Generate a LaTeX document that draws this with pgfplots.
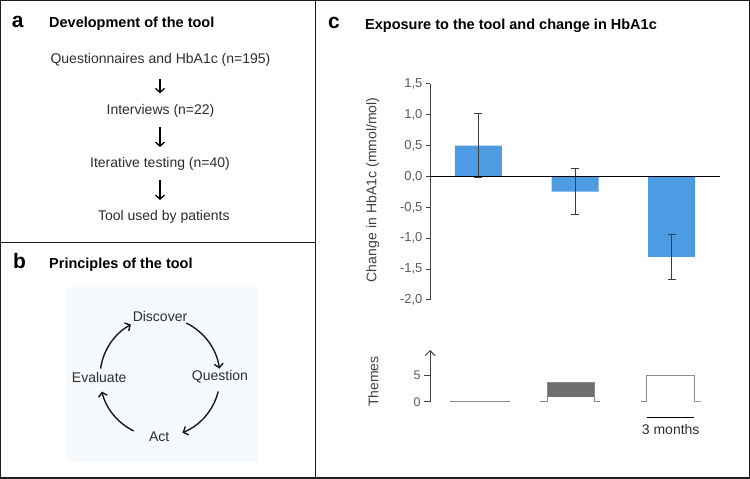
\documentclass[border=0pt]{standalone}
\usepackage{pgfplots}
\pgfplotsset{compat=1.18}
\usepackage{fontspec}
\setmainfont{Liberation Sans}
\usetikzlibrary{arrows.meta}
\definecolor{barblue}{RGB}{77,155,226}
\definecolor{txt}{RGB}{45,45,45}
\definecolor{tickc}{RGB}{89,89,89}
\definecolor{axgray}{RGB}{64,64,64}
\definecolor{framec}{RGB}{30,30,30}
\definecolor{bgb}{RGB}{247,250,253}
\definecolor{themefill}{RGB}{110,110,110}
\definecolor{themeline}{RGB}{140,140,140}
\definecolor{errc}{RGB}{60,60,60}
\newcommand{\bodyf}{\fontsize{14}{16}\selectfont}
\newcommand{\titlef}{\fontsize{14.5}{17}\selectfont\bfseries}
\newcommand{\letterf}{\fontsize{21}{24}\selectfont\bfseries}
\begin{document}
\begin{tikzpicture}
\useasboundingbox (0,0) rectangle (750pt,479pt);
\begin{scope}[x=1pt,y=1pt]
% frame
\draw[framec, line width=1.4pt] (0.7,0.9) rectangle (749.2,478.3);
\draw[framec, line width=1.4pt] (315.3,0) -- (315.3,479);
\draw[framec, line width=1.4pt] (0,236.7) -- (315.3,236.7);
% panel a
\node[anchor=base west, inner sep=0, font=\letterf] at (11.7,451) {a};
\node[anchor=base west, inner sep=0, font=\titlef] at (49,451) {Development of the tool};
\node[anchor=base, inner sep=0, font=\bodyf, text=txt] at (160.5,415.7) {Questionnaires and HbA1c (n=195)};
\node[anchor=base, inner sep=0, font=\bodyf, text=txt] at (160.5,364) {Interviews (n=22)};
\node[anchor=base, inner sep=0, font=\bodyf, text=txt] at (160,311.3) {Iterative testing (n=40)};
\node[anchor=base, inner sep=0, font=\bodyf, text=txt] at (163.8,258) {Tool used by patients};
\begin{scope}[black, line width=1.3pt, -{Straight Barb[length=4pt,width=9pt]}]
\draw (160,400) -- (160,385.7);
\draw (160,352) -- (160,332);
\draw (160,299) -- (160,279);
\end{scope}
% panel b
\node[anchor=base west, inner sep=0, font=\letterf] at (13,210.7) {b};
\node[anchor=base west, inner sep=0, font=\titlef] at (49,210.7) {Principles of the tool};
\fill[bgb] (67,17) rectangle (258,192);
\node[inner sep=0, font=\bodyf, text=txt] at (160,162.3) {Discover};
\node[inner sep=0, font=\bodyf, text=txt] at (220,102.5) {Question};
\node[inner sep=0, font=\bodyf, text=txt] at (99.2,101.3) {Evaluate};
\node[inner sep=0, font=\bodyf, text=txt] at (159.2,42) {Act};
\begin{scope}[black!90, line width=1.4pt, -{Straight Barb[length=4pt,width=9pt]}]
\draw (160,102) ++(64:60) arc[start angle=64, end angle=8, radius=60];
\draw (160,102) ++(-14:60) arc[start angle=-14, end angle=-68, radius=60];
\draw (160,102) ++(-116:60) arc[start angle=-116, end angle=-166, radius=60];
\draw (160,102) ++(172:60) arc[start angle=172, end angle=119, radius=60];
\end{scope}
% panel c
\node[anchor=base west, inner sep=0, font=\letterf] at (328,450.7) {c};
\node[anchor=base west, inner sep=0, font=\titlef] at (365,449.7) {Exposure to the tool and change in HbA1c};
\end{scope}

% bar chart
\begin{axis}[
  at={(430pt,179pt)}, anchor=south west,
  scale only axis, width=290pt, height=216pt,
  xmin=-0.5, xmax=2.5, ymin=-2, ymax=1.5,
  axis x line=none, axis y line*=left,
  y axis line style={draw=axgray, line width=1pt, -},
  xtick=\empty,
  ytick={-2,-1.5,-1,-0.5,0,0.5,1,1.5},
  tick align=outside, major tick length=4pt,
  every tick/.style={axgray, line width=1pt},
  /pgf/number format/assume math mode=true,
  yticklabel style={font=\fontsize{13}{15}\selectfont, text=tickc,
    /pgf/number format/.cd, fixed, fixed zerofill, precision=1, use comma},
  ylabel={Change\hspace{0.35em}in HbA1c (mmol/mol)},
  ylabel style={at={(axis description cs:-0.197,0.51)}, anchor=center,
    font=\fontsize{14}{16}\selectfont, text=axgray},
  clip=false,
]
\addplot[ybar, bar width=47pt, fill=barblue, draw=none,
  error bars/.cd, y dir=both, y explicit,
  error bar style={line width=1pt, errc},
  error mark options={rotate=90, mark size=4pt, line width=1pt, errc}]
  coordinates {(0,0.50) +- (0,0.52) (1,-0.245) +- (0,0.375) (2,-1.30) +- (0,0.36)};
\addplot[black, line width=1.2pt] coordinates {(-0.5,0) (2.5,0)};
\end{axis}

% themes chart
\begin{axis}[
  at={(430pt,77.3pt)}, anchor=south west,
  scale only axis, width=290pt, height=51.7pt,
  xmin=-0.5, xmax=2.5, ymin=0, ymax=9.7,
  axis x line=none, axis y line=left,
  y axis line style={draw=axgray, line width=1pt, -{Straight Barb[length=5pt,width=10pt]}},
  xtick=\empty, ytick={0,5},
  tick align=outside, major tick length=6pt,
  every tick/.style={axgray, line width=1pt},
  /pgf/number format/assume math mode=true,
  yticklabel style={font=\fontsize{12.5}{15}\selectfont, text=tickc},
  ylabel={Themes},
  ylabel style={at={(axis description cs:-0.1955,0.387)}, anchor=center,
    font=\fontsize{14}{16}\selectfont, text=axgray},
  clip=false,
]
\addplot[themeline, line width=1pt] coordinates {(-0.293,0) (0.324,0)};
\addplot[fill=themefill, draw=none] coordinates {(0.712,0.94) (0.712,3.55) (1.205,3.55) (1.205,0.94)} -- cycle;
\addplot[themeline, line width=1pt] coordinates {(0.636,0) (0.712,0) (0.712,3.55) (1.205,3.55) (1.205,0) (1.257,0)};
\addplot[themeline, line width=1pt] coordinates {(1.686,0) (1.744,0) (1.744,5) (2.237,5) (2.237,0) (2.306,0)};
\addplot[black, line width=1.2pt] coordinates {(1.744,-2.93) (2.23,-2.93)};
\node[font=\fontsize{14}{16}\selectfont, text=txt] at (axis cs:1.99,-5.18) {3 months};
\end{axis}
\end{tikzpicture}
\end{document}
